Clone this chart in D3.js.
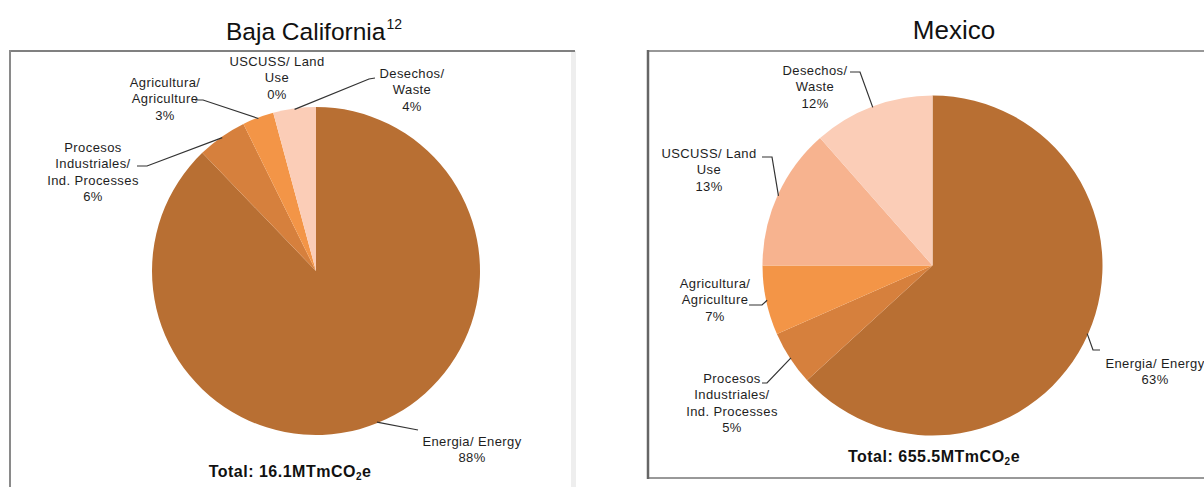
<!DOCTYPE html>
<html>
<head>
<meta charset="utf-8">
<script src="https://cdn.jsdelivr.net/npm/d3@7"></script>
<style>
  body { margin: 0; background: #fff; }
  svg { display: block; font-family: Arial, "Liberation Sans", sans-serif; }
</style>
</head>
<body>
<svg id="chart" width="1204" height="487"></svg>
<script>
// ---- data ----
var categoryLines = [
	["Energia/ Energy"],
	["Procesos", "Industriales/", "Ind. Processes"],
	["Agricultura/", "Agriculture"],
	["USCUSS/ Land", "Use"],
	["Desechos/", "Waste"]
];
var categoryColors = ["#B86F33", "#D6803D", "#F39547", "#F7B38F", "#FBCDB7"];

var bajaValues = [87.8, 4.9, 3.1, 0.0, 4.2];
var bajaPctLabels = ["88%", "6%", "3%", "0%", "4%"];
var bajaTotal = "16.1";

var mexicoValues = [63.2, 5.2, 6.6, 13.5, 11.5];
var mexicoPctLabels = ["63%", "5%", "7%", "13%", "12%"];
var mexicoTotal = "655.5";

// ---- layout (positions only) ----
var bajaLayout = {
	title: "Baja California", sup: "12", titleX: 314, titleY: 40, titleSize: 24.5,
	cx: 316, cy: 271, r: 164, totalX: 290, totalY: 477,
	labels: [
		{x: 472, y: 441, path: [[418, 430]]},
		{x: 93, y: 147, path: [[147, 166], [137, 166]]},
		{x: 165, y: 82, path: [[203, 100], [195, 100]]},
		{x: 277, y: 61, path: null},
		{x: 412, y: 73, path: [[369, 79], [375, 78]]}
	]
};
var mexicoLayout = {
	title: "Mexico", sup: null, titleX: 954, titleY: 39, titleSize: 26,
	cx: 932.5, cy: 265.5, r: 170, totalX: 934, totalY: 462,
	labels: [
		{x: 1155, y: 363, path: [[1093, 350], [1100, 350]]},
		{x: 732, y: 378, path: [[767, 383], [762, 383]]},
		{x: 715, y: 283, path: [[762, 305], [749, 305]]},
		{x: 709, y: 153, path: [[772, 157], [762, 157]]},
		{x: 815, y: 70, path: [[860, 72], [850, 72]]}
	]
};

var svg = d3.select("#chart");
var lineH = 16.5;

// frames
svg.append("rect").attr("x", 571).attr("y", 51).attr("width", 5).attr("height", 436).attr("fill", "#eeeeee");
svg.append("line").attr("x1", 10).attr("y1", 51).attr("x2", 575).attr("y2", 51)
	.attr("stroke", "#808080").attr("stroke-width", 2);
svg.append("line").attr("x1", 10).attr("y1", 50).attr("x2", 10).attr("y2", 487)
	.attr("stroke", "#8a8a8a").attr("stroke-width", 2);
svg.append("rect").attr("x", 648).attr("y", 51).attr("width", 600).attr("height", 427)
	.attr("fill", "#fff").attr("stroke", "#777").attr("stroke-width", 1.5);
svg.append("line").attr("x1", 648).attr("y1", 50).attr("x2", 648).attr("y2", 479)
	.attr("stroke", "#666").attr("stroke-width", 2.5);

function drawPie(values, pctLabels, total, L){
	var g = svg.append("g");

	var pie = d3.pie().sort(null).value(function(d){ return d; });
	var arcs = pie(values);
	var arc = d3.arc().innerRadius(0).outerRadius(L.r);
	var edge = d3.arc().innerRadius(L.r - 1).outerRadius(L.r - 1);

	var pieG = g.append("g").attr("transform", "translate(" + L.cx + "," + L.cy + ")");
	pieG.selectAll("path")
		.data(arcs)
		.enter().append("path")
		.attr("d", arc)
		.attr("fill", function(d, i){ return categoryColors[i]; });

	// leader lines from slice mid-angle to label
	arcs.forEach(function(d, i){
		var lab = L.labels[i];
		if (!lab.path) return;
		var c = edge.centroid(d);
		var pts = [[L.cx + c[0], L.cy + c[1]]].concat(lab.path);
		g.append("path")
			.attr("d", d3.line()(pts))
			.attr("fill", "none")
			.attr("stroke", "#333")
			.attr("stroke-width", 1.2);
	});

	// labels
	arcs.forEach(function(d, i){
		var lab = L.labels[i];
		var lines = categoryLines[i].concat([pctLabels[i]]);
		var t = g.append("text")
			.attr("text-anchor", "middle")
			.attr("font-size", 13)
			.attr("letter-spacing", 0.4)
			.attr("fill", "#1e1e1e");
		lines.forEach(function(s, k){
			t.append("tspan")
				.attr("x", lab.x)
				.attr("y", lab.y + k * lineH + 4.5)
				.text(s);
		});
	});

	// title
	var title = svg.append("text")
		.attr("x", L.titleX).attr("y", L.titleY)
		.attr("text-anchor", "middle")
		.attr("font-size", L.titleSize)
		.attr("fill", "#111")
		.text(L.title);
	if (L.sup){
		title.append("tspan").attr("font-size", 14).attr("dx", 1).attr("dy", -11).text(L.sup);
	}

	// total
	var tot = g.append("text")
		.attr("x", L.totalX).attr("y", L.totalY)
		.attr("text-anchor", "middle")
		.attr("font-size", 16)
		.attr("font-weight", "bold")
		.attr("letter-spacing", 0.5)
		.attr("fill", "#111")
		.text("Total: " + total + "MTmCO");
	tot.append("tspan").attr("font-size", 10).attr("dy", 3).text("2");
	tot.append("tspan").attr("dy", -3).text("e");
}

drawPie(bajaValues, bajaPctLabels, bajaTotal, bajaLayout);
drawPie(mexicoValues, mexicoPctLabels, mexicoTotal, mexicoLayout);
</script>
</body>
</html>
